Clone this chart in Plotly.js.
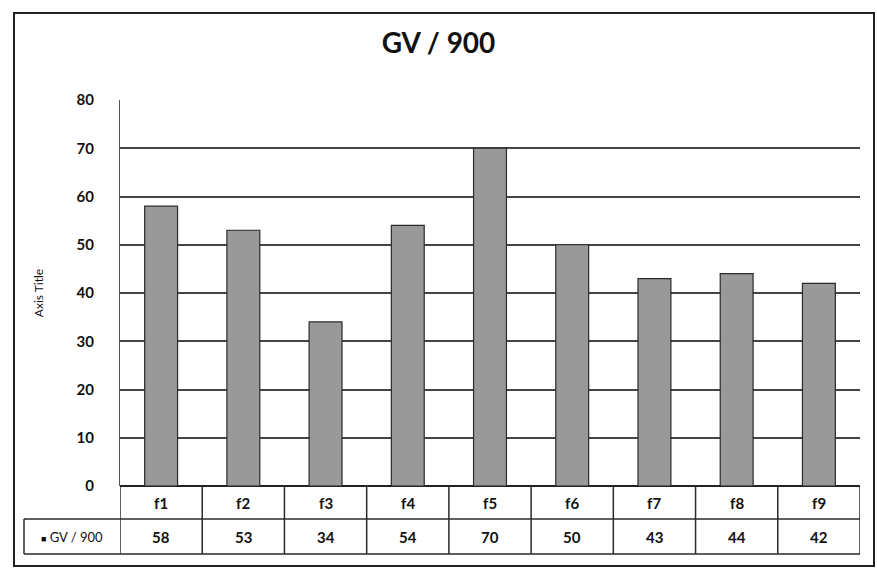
<!DOCTYPE html>
<html>
<head>
<meta charset="utf-8">
<script src="https://cdn.plot.ly/plotly-3.0.1.min.js"></script>
<style>html,body{margin:0;padding:0;background:#fff;}#chart{width:877px;height:571px;}</style>
</head>
<body>
<div id="chart"></div>
<script>
const categories = ["f1", "f2", "f3", "f4", "f5", "f6", "f7", "f8", "f9"];
const values = [58, 53, 34, 54, 70, 50, 43, 44, 42];
const seriesName = "GV / 900";
const chartTitle = "GV / 900";
const yAxisTitle = "Axis Title";
const yTicks = [0, 10, 20, 30, 40, 50, 60, 70, 80];

const FONT = "Lato, 'Open Sans', sans-serif";
const lineCol = "#2a2a2a";
const plotH = 571 - 100 - 85;
const plotW = 877 - 120 - 17;
const px2py = p => -(p) / plotH;
const row1B = px2py(33), row2B = px2py(68);
const headerX0 = (24 - 120) / plotW;

const shapes = [];
const annotations = [];
shapes.push({type: 'line', xref: 'x', yref: 'paper', x0: -0.5, x1: categories.length - 0.5, y0: row1B, y1: row1B, line: {color: lineCol, width: 1.5}});
shapes.push({type: 'line', xref: 'paper', yref: 'paper', x0: headerX0, x1: 1, y0: row2B, y1: row2B, line: {color: lineCol, width: 1.5}});
shapes.push({type: 'line', xref: 'paper', yref: 'paper', x0: headerX0, x1: 0, y0: row1B, y1: row1B, line: {color: lineCol, width: 1.5}});
shapes.push({type: 'line', xref: 'paper', yref: 'paper', x0: headerX0, x1: headerX0, y0: row1B, y1: row2B, line: {color: lineCol, width: 1.5}});
for (let i = 0; i <= categories.length; i++) {
  shapes.push({type: 'line', xref: 'x', yref: 'paper', x0: i - 0.5, x1: i - 0.5, y0: 0, y1: row2B, line: {color: lineCol, width: 1.5}});
}
shapes.push({type: 'rect', xref: 'paper', yref: 'paper', x0: (14 - 120) / plotW, x1: (874 - 120) / plotW, y0: px2py(80), y1: (487 - 14) / plotH, line: {color: '#222', width: 2}, fillcolor: 'rgba(0,0,0,0)'});

categories.forEach((c, i) => {
  annotations.push({xref: 'x', yref: 'paper', x: i, y: (0 + row1B) / 2, text: c, showarrow: false, xanchor: 'center', font: {family: FONT, size: 15, color: '#111', weight: 'bold'}, yanchor: 'middle'});
  annotations.push({xref: 'x', yref: 'paper', x: i, y: (row1B + row2B) / 2, text: String(values[i]), showarrow: false, xanchor: 'center', font: {family: FONT, size: 15, color: '#111', weight: 'bold'}, yanchor: 'middle'});
});
annotations.push({xref: 'paper', yref: 'paper', x: headerX0 / 2, xanchor: 'center', y: (row1B + row2B) / 2, text: "<span style='font-size:9px'>■</span> " + seriesName, showarrow: false, font: {family: FONT, size: 13, color: '#111'}, yanchor: 'middle'});

const trace = {
  type: 'bar', x: categories, y: values, name: seriesName,
  marker: {color: '#999999', line: {color: '#2a2a2a', width: 1.2}},
  width: 0.4, hoverinfo: 'none'
};

const layout = {
  width: 877, height: 571,
  margin: {l: 120, r: 17, t: 100, b: 85},
  paper_bgcolor: '#fff', plot_bgcolor: '#fff',
  showlegend: false,
  title: {text: chartTitle, x: 0.5, xanchor: 'center', y: 0.925, yanchor: 'middle', font: {family: FONT, size: 28, color: '#111', weight: 'bold'}},
  xaxis: {type: 'category', showticklabels: false, showgrid: false, zeroline: false, showline: false, ticks: '', range: [-0.5, categories.length - 0.5], fixedrange: true},
  yaxis: {range: [0, 80], tickvals: yTicks, ticktext: yTicks.map(String), showgrid: true, gridcolor: '#444', gridwidth: 2, zeroline: true, zerolinecolor: '#222', zerolinewidth: 2, showline: true, linecolor: '#555', linewidth: 1, ticks: '', ticklabelstandoff: 22,
    tickfont: {family: FONT, size: 15, color: '#111', weight: 'bold'},
    title: {text: yAxisTitle, font: {family: FONT, size: 12, color: '#111'}, standoff: 30}},
  shapes: shapes,
  annotations: annotations
};

Plotly.newPlot('chart', [trace], layout, {displayModeBar: false, staticPlot: true});
</script>
</body>
</html>
